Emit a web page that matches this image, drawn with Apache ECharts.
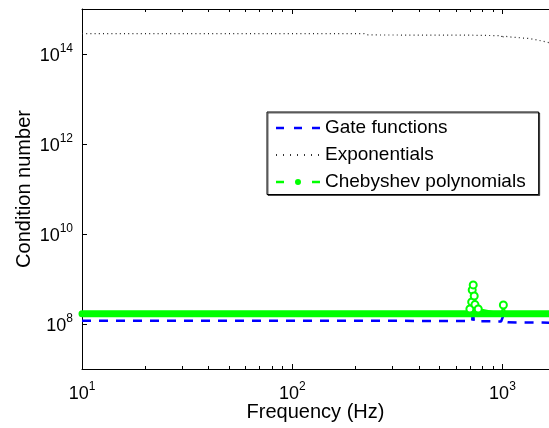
<!DOCTYPE html>
<html>
<head>
<meta charset="utf-8">
<script src="https://cdn.jsdelivr.net/npm/echarts@6/dist/echarts.min.js"></script>
<style>html,body{margin:0;padding:0;background:#fff}#c{width:549px;height:428px}</style>
</head>
<body>
<div id="c"></div>
<script>
// ---- data ----
var gateFreq = [10, 100, 700, 718, 724, 730, 985, 1008, 1030, 1060, 1665];
var gateVals = [1.18e8, 1.18e8, 1.17e8, 1.15e8, 2.3e8, 1.15e8, 1.14e8, 1.5e8, 1.12e8, 1.09e8, 1.07e8];

var expFreq = [10, 220, 230, 700, 990, 1000, 1010, 1100, 1350, 1500, 1665];
var expVals = [2.85e14, 2.85e14, 2.65e14, 2.62e14, 2.55e14, 2.2e14, 2.5e14, 2.38e14, 2.2e14, 2.0e14, 1.78e14];

var chebFlatFreq = [10, 100, 700, 767, 1000, 1665];
var chebFlatVals = [1.7e8, 1.7e8, 1.7e8, 1.7e8, 1.7e8, 1.7e8];

var chebSpikeFreq = [700, 714, 718, 726, 734, 740, 767, 990, 1010, 1030];
var chebSpikeVals = [2.15e8, 3.1e8, 5.7e8, 7.4e8, 4.2e8, 2.7e8, 2.15e8, 1.7e8, 2.64e8, 1.7e8];

var xMajorTicks = [10, 100, 1000];
var xMinorTicks = [20, 30, 40, 50, 60, 70, 80, 90, 200, 300, 400, 500, 600, 700, 800, 900];
var yMajorTicks = [1e8, 1e10, 1e12, 1e14];

var xMin = 10, xMax = 1665, yMin = 1e7, yMax = 1e15;

// ---- chart ----
var FONT = "'Liberation Sans', Arial, Helvetica, sans-serif";
function pairs(xs, ys) { return xs.map(function (x, i) { return [x, ys[i]]; }); }
function supLabel(v) {
  var e = Math.round(Math.log(v) / Math.LN10);
  return '{b|10}{s|' + e + '}';
}
var rich = {
  b: { fontSize: 18, fontFamily: FONT, color: '#000', verticalAlign: 'bottom' },
  s: { fontSize: 12, fontFamily: FONT, color: '#000', verticalAlign: 'bottom', padding: [0, 0, 10, 0] }
};
var lineBlack = { show: true, lineStyle: { color: '#000', width: 1 } };

function xAxisDef(pos, ticks, len, showLine, showLabel, name) {
  var a = {
    type: 'log', logBase: 10, min: xMin, max: xMax, position: pos,
    axisLine: showLine ? lineBlack : { show: false },
    axisTick: { show: true, inside: true, length: len, customValues: ticks, lineStyle: { color: '#000', width: 1 } },
    minorTick: { show: false },
    splitLine: { show: false },
    axisLabel: showLabel ? { show: true, customValues: ticks, margin: 12, formatter: supLabel, rich: rich } : { show: false }
  };
  if (name) {
    a.name = name; a.nameLocation = 'middle'; a.nameGap = 33; a.nameMoveOverlap = false;
    a.nameTextStyle = { fontSize: 20, fontFamily: FONT, color: '#000' };
  }
  return a;
}

var chebChanges = chebSpikeFreq.map(function (f, i) {
  var v = chebSpikeVals[i];
  return { value: [f, v], symbol: v > 1.9e8 ? 'emptyCircle' : 'none' };
});

var option = {
  animation: false,
  backgroundColor: '#fff',
  grid: { left: 82, right: 0, top: 9, bottom: 59, containLabel: false, outerBoundsMode: 'none' },
  xAxis: [
    xAxisDef('bottom', xMajorTicks, 5, true, true, 'Frequency (Hz)'),
    xAxisDef('bottom', xMinorTicks, 3, false, false),
    xAxisDef('top', xMajorTicks, 5, true, false),
    xAxisDef('top', xMinorTicks, 3, false, false)
  ],
  yAxis: [{
    type: 'log', logBase: 10, min: yMin, max: yMax, position: 'left',
    axisLine: lineBlack,
    axisTick: { show: true, inside: true, length: 5, customValues: yMajorTicks, lineStyle: { color: '#000' } },
    minorTick: { show: false },
    splitLine: { show: false },
    axisLabel: { show: true, customValues: yMajorTicks, margin: 9, formatter: supLabel, rich: rich },
    name: 'Condition number', nameLocation: 'middle', nameGap: 48, nameRotate: 90, nameMoveOverlap: false,
    nameTextStyle: { fontSize: 20, fontFamily: FONT, color: '#000' }
  }],
  legend: {
    orient: 'vertical', left: 267, top: 112,
    padding: [6.5, 13, 3, 9],
    itemWidth: 44, itemHeight: 14, itemGap: 8,
    backgroundColor: '#fff', borderColor: '#000', borderWidth: 1,
    shadowColor: 'rgba(0,0,0,0.6)', shadowBlur: 0, shadowOffsetX: 1, shadowOffsetY: 1,
    selectedMode: false,
    textStyle: { fontSize: 19, fontFamily: FONT, color: '#000' },
    data: [
      { name: 'Gate functions', icon: 'path://M0,0M44,14M0,5.75h8v2.5h-8zM18,5.75h8v2.5h-8zM36,5.75h8v2.5h-8z' },
      { name: 'Exponentials', icon: 'path://M0,0M44,14M0,6h1v2h-1zM7,6h1v2h-1zM14,6h1v2h-1zM21,6h1v2h-1zM28,6h1v2h-1zM35,6h1v2h-1zM42,6h1v2h-1z' },
      { name: 'Chebyshev polynomials', icon: 'path://M0,0M44,14M0,5.75h8v2.5h-8zM36,5.75h8v2.5h-8zM25,7a3,3 0 1,1 -6,0a3,3 0 1,1 6,0z' }
    ]
  },
  series: [
    {
      name: 'Gate functions', type: 'line', xAxisIndex: 0, yAxisIndex: 0,
      data: pairs(gateFreq, gateVals), symbol: 'none', z: 3,
      itemStyle: { color: '#0000ff' },
      lineStyle: { color: '#0000ff', width: 2.5, type: [9, 8] }
    },
    {
      name: 'Exponentials', type: 'line', xAxisIndex: 0, yAxisIndex: 0,
      data: pairs(expFreq, expVals), symbol: 'none', z: 3,
      itemStyle: { color: '#333333' },
      lineStyle: { color: '#222222', width: 1.2, type: [1, 3.2] }
    },
    {
      name: 'Chebyshev polynomials', type: 'line', xAxisIndex: 0, yAxisIndex: 0,
      data: pairs(chebFlatFreq, chebFlatVals), symbol: 'none', z: 4,
      itemStyle: { color: '#00ff00' },
      lineStyle: { color: '#00ff00', width: 7, cap: 'round' }
    },
    {
      name: 'Chebyshev polynomials', type: 'line', xAxisIndex: 0, yAxisIndex: 0,
      data: chebChanges, symbol: 'emptyCircle', symbolSize: 7, showSymbol: true, z: 5,
      itemStyle: { color: '#00ff00', borderWidth: 2 },
      lineStyle: { color: '#00ff00', width: 2 }
    }
  ]
};
var chart = echarts.init(document.getElementById('c'), null, { renderer: 'canvas' });
chart.setOption(option);
</script>
</body>
</html>
